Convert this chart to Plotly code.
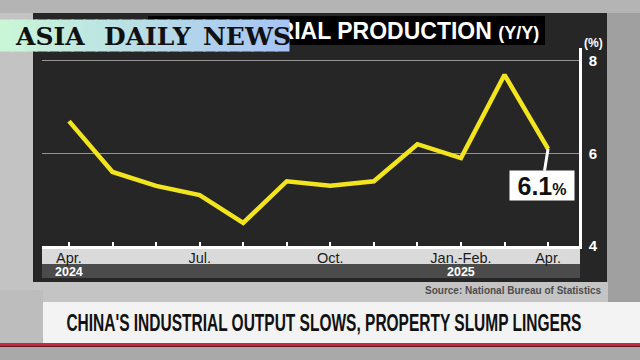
import plotly.graph_objects as go

# ---------------- data ----------------
periods = ["2024-04", "2024-05", "2024-06", "2024-07", "2024-08", "2024-09",
           "2024-10", "2024-11", "2024-12", "2025-01/02", "2025-03", "2025-04"]
growth = [6.7, 5.6, 5.3, 5.1, 4.5, 5.4, 5.3, 5.4, 6.2, 5.9, 7.7, 6.1]
tick_labels = ["Apr.", "", "", "Jul.", "", "", "Oct.", "", "", "Jan.-Feb.", "", "Apr."]
year_periods = ["2024-04", "2025-01/02"]
year_labels = ["2024", "2025"]
y_ticks = [4, 6, 8]
y_tick_labels = ["4", "6", "8"]
title_main = "INDUSTRIAL PRODUCTION"
title_unit = "(Y/Y)"
unit_label = "(%)"
callout_value = "6.1"
source_text = "Source: National Bureau of Statistics"
headline = "CHINA'S INDUSTRIAL OUTPUT SLOWS, PROPERTY SLUMP LINGERS"
logo_words = ["ASIA", "DAILY", "NEWS"]

# ---------------- layout helpers ----------------
W, H = 640, 360
L, R, T, B = 42, 579, 48, 246


def px(x):
    return (x - L) / (R - L)


def py(y):
    return (B - y) / (B - T)


SANS = "Liberation Sans, Arial, Roboto, sans-serif"

fig = go.Figure()
fig.add_trace(go.Scatter(
    x=periods, y=growth, mode="lines",
    line=dict(color="#f3e51d", width=4.5),
    cliponaxis=False, hoverinfo="skip", showlegend=False,
))


def rect(x0, y0, x1, y1, color, layer="below"):
    fig.add_shape(type="rect", xref="paper", yref="paper",
                  x0=px(x0), x1=px(x1), y0=py(y1), y1=py(y0),
                  fillcolor=color, line=dict(width=0), layer=layer)


# background pieces
rect(0, 0, 33, 300, "#c3c3c3")
rect(0, 0, 640, 13, "#b4b4b4")
rect(33, 282, 608, 302, "#c4c4c4")
# chart panel
rect(33, 13, 607, 282, "#262626")
# title box
rect(148, 16, 545, 45, "#000000")
# x label bands
rect(42, 249, 580, 264, "#dadada")
rect(42, 264, 580, 278, "#4b4b4b")
# headline banner
rect(0, 290, 43, 344, "#bdbdbd")
rect(43, 302, 640, 343, "#f3f3f3")
rect(0, 343, 640, 345.5, "#c62b3c")
rect(0, 345.5, 640, 347, "#5e1a22")
rect(0, 347, 640, 360, "#a9a9a9")

annotations = []

# title text
annotations.append(dict(
    xref="paper", yref="paper", x=px(541), y=py(31), xanchor="right", yanchor="middle",
    text=f"<b>{title_main} <span style='font-size:18px'>{title_unit}</span></b>",
    font=dict(family=SANS, size=23, color="white"), showarrow=False))

# logo gradient strips (drawn over the title)
n_strips = 24
x_start, x_end = 0, 288
c0, c1 = (202, 246, 216), (166, 196, 244)
sw = (x_end - x_start) / n_strips
for i in range(n_strips):
    t = i / (n_strips - 1)
    c = tuple(round(c0[k] + (c1[k] - c0[k]) * t) for k in range(3))
    annotations.append(dict(
        xref="paper", yref="paper", x=px(x_start + sw * (i + 0.5)), y=py(35.5),
        xanchor="center", yanchor="middle", text=" ", width=sw + 1, height=31,
        borderpad=0, bgcolor=f"rgb{c}", showarrow=False))
for word, cx in zip(logo_words, [50, 148, 247]):
    annotations.append(dict(
        xref="paper", yref="paper", x=px(cx), y=py(36), xanchor="center", yanchor="middle",
        text=f"<b>{word}</b>", font=dict(family="DejaVu Serif, serif", size=25, color="#111111"),
        showarrow=False))

# unit
annotations.append(dict(
    xref="paper", yref="paper", x=px(593), y=py(43), xanchor="center", yanchor="middle",
    text=f"<b>{unit_label}</b>", font=dict(family=SANS, size=12, color="white"),
    showarrow=False))

# years
for per, lab in zip(year_periods, year_labels):
    annotations.append(dict(
        xref="x", yref="paper", x=per, y=py(271.5), xanchor="center", yanchor="middle",
        text=f"<b>{lab}</b>", font=dict(family=SANS, size=12.5, color="white"),
        showarrow=False))

# callout
annotations.append(dict(
    xref="x", yref="y", x=periods[-1], y=growth[-1],
    text=f"<b>{callout_value}<span style='font-size:16px'>%</span></b>",
    font=dict(family=SANS, size=25, color="#111111"),
    bgcolor="white", borderpad=2, width=60, height=25, showarrow=True, arrowhead=0,
    arrowwidth=3, arrowcolor="white", ax=-6, ay=37, standoff=0))

# source
annotations.append(dict(
    xref="paper", yref="paper", x=px(604), y=py(290), xanchor="right", yanchor="middle",
    text=f"<b>{source_text}</b>", font=dict(family=SANS, size=10, color="#4d4d4d"),
    showarrow=False))

# headline
annotations.append(dict(
    xref="paper", yref="paper", x=px(64), y=py(323), xanchor="left", yanchor="middle",
    text=f"<b>{headline}</b>", font=dict(family=SANS, size=23.5, color="#111111"),
    showarrow=False))

fig.update_layout(
    width=W, height=H,
    margin=dict(l=L, r=W - R, t=T, b=H - B, pad=0),
    paper_bgcolor="#a0a0a0", plot_bgcolor="rgba(0,0,0,0)",
    showlegend=False, annotations=annotations,
    xaxis=dict(
        type="category", categoryorder="array", categoryarray=periods,
        range=[-0.62, 11.71], tickvals=periods, ticktext=tick_labels,
        ticks="inside", ticklen=4, tickwidth=1.5, tickcolor="white",
        showline=True, linecolor="white", linewidth=2.5, showgrid=False,
        tickfont=dict(family=SANS, size=14.5, color="#1a1a1a"),
        ticklabelstandoff=-3, fixedrange=True,
    ),
    yaxis=dict(
        side="right", range=[4, 8.28], tickvals=y_ticks,
        ticktext=[f"<b>{t}</b>" for t in y_tick_labels],
        showline=True, linecolor="white", linewidth=2.5,
        showgrid=True, gridcolor="#949494", gridwidth=1, zeroline=False,
        ticks="", tickfont=dict(family=SANS, size=15, color="white"),
        ticklabelstandoff=4, fixedrange=True,
    ),
)
fig.update_xaxes(tickprefix="<b>", ticksuffix="</b>")

post = """
document.body.style.margin = '0';
document.body.style.overflow = 'hidden';
document.querySelectorAll('text.annotation-text').forEach(function (t) {
  if (t.textContent.indexOf('PROPERTY SLUMP') >= 0) {
    t.style.transformBox = 'fill-box';
    t.style.transformOrigin = 'left center';
    t.style.transform = 'scaleX(0.66)';
  }
});
"""

fig.write_html("out.html", config={"displayModeBar": False}, post_script=post)
